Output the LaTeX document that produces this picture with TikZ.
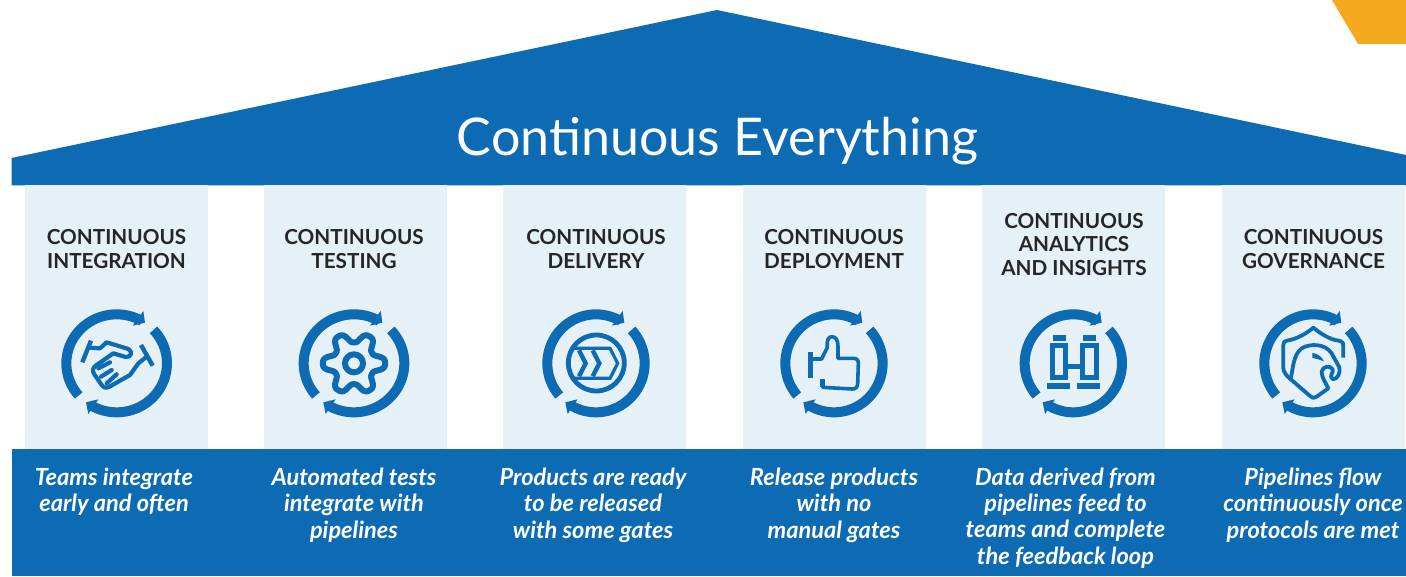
\documentclass[tikz,border=0pt]{standalone}
\usepackage{fontspec}
\setmainfont{Lato}
\definecolor{brandblue}{HTML}{0D6BB4}
\definecolor{paleblue}{HTML}{E5F0F7}
\definecolor{brandorange}{HTML}{F4A91E}
\tikzset{
  coltitle/.style={align=center,inner sep=0pt,text=black!85,font=\bfseries\fontsize{20.7}{23.6}\selectfont},
  coltext/.style={align=center,inner sep=0pt,text=white,font=\bfseries\itshape\fontsize{23.6}{26.4}\selectfont},
  iconline/.style={draw=brandblue,line width=4.2pt,line join=round,line cap=round},
  iconbutt/.style={draw=brandblue,line width=4.6pt},
  colbg/.style={fill=paleblue,draw=none},
}
% ring of two arrows; coordinates are 3x pixels, y downwards; #3 = horizontal radius
\newcommand{\ringicon}[3]{%
  \begin{scope}[shift={(#1,#2)}]
    \draw[brandblue,line width=10pt,variable=\t] plot[domain=221:60,samples=40] ({#3*cos(\t)},{-147*sin(\t)});
    \draw[brandblue,line width=10pt,variable=\t] plot[domain=43:-122,samples=40] ({#3*cos(\t)},{-147*sin(\t)});
    \fill[brandblue] (80,-157) -- (85,-122) -- (48,-113) -- cycle;
    \fill[brandblue] (-55,108) -- (-92,117) -- (-85,152) -- cycle;
  \end{scope}}
\begin{document}
\begin{tikzpicture}[x=1pt,y=1pt]
\useasboundingbox (0,0) rectangle (1406,576);
\fill[white] (0,0) rectangle (1406,576);
% roof and base
\fill[brandblue] (11.5,418) -- (717,566) -- (1406,421) -- (1406,390.5) -- (11.5,390.5) -- cycle;
\fill[brandblue] (12,0) rectangle (1406,127);
\fill[brandorange] (1332,576) -- (1358,532) -- (1406,532) -- (1406,576) -- cycle;
% columns
\fill[colbg] (25,127) rectangle (208,391);
\fill[colbg] (264,127) rectangle (447,391);
\fill[colbg] (503,127) rectangle (686,391);
\fill[colbg] (743,127) rectangle (926,391);
\fill[colbg] (982,127) rectangle (1165,391);
\fill[colbg] (1222,127) rectangle (1405,391);
% heading
\node[inner sep=0pt,text=white,font=\fontsize{52}{56}\selectfont] (heading) at (717.5,434.5) {Continuous Everything};
% column titles
\node[coltitle] (t1) at (116.5,327) {CONTINUOUS\\INTEGRATION};
\node[coltitle] (t2) at (354,327) {CONTINUOUS\\TESTING};
\node[coltitle] (t3) at (596,327) {CONTINUOUS\\DELIVERY};
\node[coltitle] (t4) at (834,327) {CONTINUOUS\\DEPLOYMENT};
\node[coltitle] (t5) at (1074,331.5) {CONTINUOUS\\ANALYTICS\\AND INSIGHTS};
\node[coltitle] (t6) at (1313.5,327) {CONTINUOUS\\GOVERNANCE};
% column texts
\node[coltext] (d1) at (114,84) {Teams integrate\\early and often};
\node[coltext] (d2) at (354,71) {Automated tests\\integrate with\\pipelines};
\node[coltext] (d3) at (593,71) {Products are ready\\to be released\\with some gates};
\node[coltext] (d4) at (834,71) {Release products\\with no\\manual gates};
\node[coltext] (d5) at (1065.5,58) {Data derived from\\pipelines feed to\\teams and complete\\the feedback loop};
\node[coltext] (d6) at (1313,71) {Pipelines flow\\continuously once\\protocols are met};
% icons 1 and 2 (crop origin 30,290)
\begin{scope}[shift={(30,286)},x=.33333pt,y=-.33333pt]
  \ringicon{260}{220}{151}
  \ringicon{972}{220}{151}
  \draw[iconline,line width=6pt,line cap=butt] (972,220) circle (27);
  \draw[iconline,line width=6pt,variable=\t] plot[domain=0:360,samples=145,smooth] ({972+(78+17*(cos(6*\t)-0.1*cos(18*\t)))*cos(\t)},{220-(78+17*(cos(6*\t)-0.1*cos(18*\t)))*sin(\t)});
\end{scope}
\begin{scope}[shift={(75,251)},x=.33333pt,y=-.33333pt]
  \draw[iconbutt,line width=4.4pt] (48,47) -- (22,112);
  \draw[iconbutt,line width=4.4pt] (198,60) -- (233,122);
  \draw[iconline] (40,68) -- (75,70) -- (95,52) -- (160,72) .. controls (175,80) and (168,98) .. (152,96) -- (115,85) -- (62,122) .. controls (52,130) and (52,138) .. (58,148) -- (80,180) .. controls (88,190) and (95,190) .. (105,184) -- (165,150) -- (190,115) -- (215,95);
  \draw[iconline] (70,130) -- (105,112);
  \draw[iconline] (78,155) -- (110,135);
  \draw[iconline] (95,175) -- (125,148);
\end{scope}
% icons 3 and 4 (crop origin 510,290)
\begin{scope}[shift={(510,286)},x=.33333pt,y=-.33333pt]
  \ringicon{258}{220}{146}
  \ringicon{972}{220}{146}
  \draw[iconbutt,line width=5pt] (902,187) -- (902,265);
  \draw[iconline,line width=3.6pt] (905,207) -- (935,207) -- (952,172) .. controls (950,150) and (955,140) .. (966,140) .. controls (980,140) and (984,155) .. (984,170) -- (984,205) -- (1030,205) .. controls (1042,205) and (1046,212) .. (1045,222) -- (1043,282) .. controls (1042,292) and (1036,298) .. (1026,297) -- (938,292);
  \draw[iconbutt,line width=4.5pt] (938,292) -- (938,268);
\end{scope}
\begin{scope}[shift={(555,251)},x=.33333pt,y=-.33333pt]
  \draw[iconline,line width=4.8pt] (124,114) circle (84);
  \draw[iconline,line width=3.2pt,line cap=butt,line join=miter] (52,70) -- (165,70) -- (188,115) -- (165,160) -- (52,160);
  \draw[iconline,line cap=butt,line join=miter,line width=4.4pt] (72,76) -- (92,115) -- (72,154);
  \draw[iconline,line cap=butt,line join=miter,line width=4.4pt] (113,76) -- (133,115) -- (113,154);
\end{scope}
% icons 5 and 6 (crop origin 1000,290)
\begin{scope}[shift={(1000,286)},x=.33333pt,y=-.33333pt]
  \ringicon{220}{220}{146}
  \ringicon{939}{220}{146}
  \fill[brandblue] (159,135) rectangle (198,152);
  \fill[brandblue] (249,135) rectangle (288,152);
  \fill[brandblue] (141,279) rectangle (210,297);
  \fill[brandblue] (231,279) rectangle (300,297);
  \draw[iconline,line width=5pt,line cap=butt,line join=miter] (157,167) rectangle (195,262);
  \draw[iconline,line width=5pt,line cap=butt,line join=miter] (246,167) rectangle (288,262);
  \draw[iconline,line width=5pt,line cap=butt] (195,230) -- (246,230);
  \draw[iconline,line width=3.8pt,line cap=butt] (1030,203) -- (1030,165) .. controls (1030,155) and (1020,152) .. (1010,151) .. controls (990,148) and (960,130) .. (940,113) .. controls (920,130) and (890,148) .. (860,152) .. controls (852,154) and (850,158) .. (850,165) -- (850,235) .. controls (850,245) and (860,258) .. (870,266) -- (930,318) .. controls (938,325) and (945,325) .. (950,320) -- (985,295);
  \draw[iconline,line width=3.8pt] (873,262) .. controls (880,230) and (880,195) .. (905,175) .. controls (930,160) and (975,160) .. (995,190) -- (1018,232) .. controls (1022,250) and (1012,268) .. (998,268) .. controls (985,255) and (1002,250) .. (998,238) .. controls (990,225) and (968,228) .. (965,245) .. controls (965,262) and (975,275) .. (985,295);
  \fill[brandblue] (937,189) .. controls (950,190) and (965,198) .. (972,214) -- (952,207) -- (937,204) -- cycle;
\end{scope}
\end{tikzpicture}
\end{document}
